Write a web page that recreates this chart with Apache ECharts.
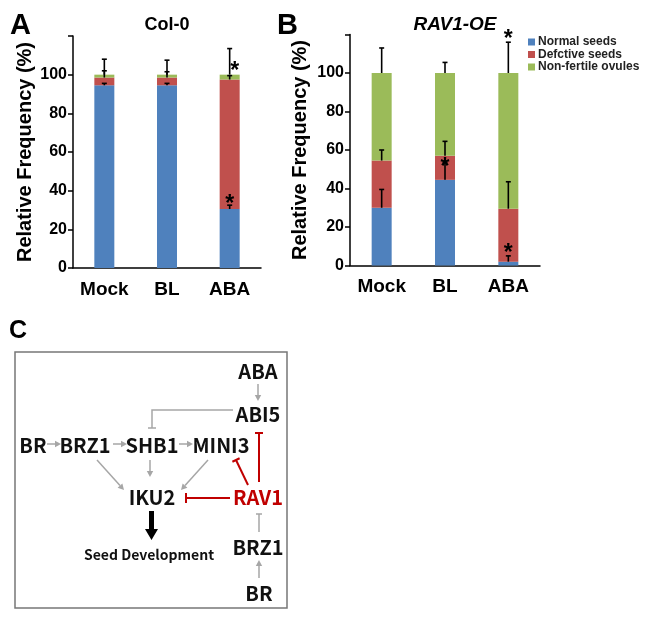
<!DOCTYPE html>
<html><head><meta charset="utf-8">
<script src="https://cdn.jsdelivr.net/npm/echarts@6/dist/echarts.min.js"></script>
<style>html,body{margin:0;padding:0;background:#fff}#c{width:654px;height:621px}</style>
</head><body><div id="c"></div>
<script>
// ---------- data ----------
const categories = ['Mock', 'BL', 'ABA'];
const seriesNames = ['Normal seeds', 'Defctive seeds', 'Non-fertile ovules'];
const yMax = 120;
const yTickLabels = [0, 20, 40, 60, 80, 100];

// Panel A: Col-0 (percent per segment)
const colNormal = [94.5, 94.5, 30.5];
const colDefective = [4.0, 4.0, 67.0];
const colNonfertile = [1.5, 1.5, 2.5];
const colErrNormal = [1.0, 1.0, 2.0];
const colErrDefective = [3.5, 3.0, 2.0];
const colErrNonfertile = [8.0, 7.5, 13.5];
const colStarsCat = [2, 2];
const colStarsVal = [35.5, 104];

// Panel B: RAV1-OE
const ravNormal = [30.0, 44.5, 2.0];
const ravDefective = [24.5, 12.5, 27.5];
const ravNonfertile = [45.5, 43.0, 70.5];
const ravErrNormal = [9.5, 9.0, 3.0];
const ravErrDefective = [5.5, 7.5, 14.0];
const ravErrNonfertile = [13.0, 5.5, 16.0];
const ravStarsCat = [1, 2, 2];
const ravStarsVal = [53.5, 8.5, 120];

// ---------- styles ----------
const colors = ['#4F81BD', '#C0504D', '#9BBB59'];
const FONT = 'Liberation Sans, Arial, sans-serif';
const DFONT = '"Noto Sans CJK KR", "Noto Sans", sans-serif';

function errData(segs, errs) {
  const out = [];
  let base = segs[0].map(() => 0);
  segs.forEach((seg, s) => {
    seg.forEach((v, i) => {
      const top = base[i] + v;
      out.push([i, top, top + errs[s][i]]);
    });
    base = base.map((b, i) => b + seg[i]);
  });
  return out;
}

function errSeries(idx, segs, errs) {
  return {
    type: 'custom', xAxisIndex: idx, yAxisIndex: idx, z: 10,
    data: errData(segs, errs),
    encode: { x: 0, y: [1, 2] },
    renderItem: function (params, api) {
      const p0 = api.coord([api.value(0), api.value(1)]);
      const p1 = api.coord([api.value(0), api.value(2)]);
      const st = { stroke: '#000', lineWidth: 1.6 };
      return {
        type: 'group', children: [
          { type: 'line', shape: { x1: p0[0], y1: p0[1], x2: p1[0], y2: p1[1] }, style: st },
          { type: 'line', shape: { x1: p1[0] - 2.5, y1: p1[1], x2: p1[0] + 2.5, y2: p1[1] }, style: st }
        ]
      };
    }
  };
}

function starSeries(idx, cats, vals, dx) {
  return {
    type: 'custom', xAxisIndex: idx, yAxisIndex: idx, z: 11,
    data: cats.map((c, i) => [c, vals[i]]),
    encode: { x: 0, y: 1 },
    renderItem: function (params, api) {
      const p = api.coord([api.value(0), api.value(1)]);
      return {
        type: 'text',
        style: {
          text: '*', x: p[0] + (dx[params.dataIndex] || 0), y: p[1] + 5,
          align: 'center', verticalAlign: 'middle',
          font: 'bold 23px ' + FONT, fill: '#000'
        }
      };
    }
  };
}

function barSeries(idx, segs) {
  return segs.map((seg, s) => ({
    type: 'bar', name: seriesNames[s], stack: 'st' + idx,
    xAxisIndex: idx, yAxisIndex: idx, barWidth: 20,
    itemStyle: { color: colors[s] }, data: seg
  }));
}

function xAxis(idx) {
  return {
    type: 'category', gridIndex: idx, data: categories,
    axisLine: { lineStyle: { color: '#000', width: 1.5 } },
    axisTick: { show: false },
    axisLabel: { interval: 0, color: '#000', fontFamily: FONT, fontWeight: 'bold', fontSize: 19, margin: 12 }
  };
}
function yAxis(idx, gap) {
  return {
    type: 'value', gridIndex: idx, min: 0, max: yMax, interval: 20,
    name: 'Relative Frequency (%)', nameLocation: 'middle', nameGap: gap,
    nameTextStyle: { color: '#000', fontFamily: FONT, fontWeight: 'bold', fontSize: 20 },
    axisLine: { show: true, lineStyle: { color: '#000', width: 1.5 } },
    axisTick: { show: true, length: 5, lineStyle: { color: '#000', width: 1.5 } },
    splitLine: { show: false },
    axisLabel: {
      color: '#000', fontFamily: FONT, fontWeight: 'bold', fontSize: 16, margin: 6,
      formatter: v => (yTickLabels.indexOf(v) >= 0 ? String(v) : '')
    }
  };
}

// ---------- diagram helpers (panel C) ----------
const G = [];
const GRAY = '#A6A6A6', RED = '#C00000';
function node(text, x, y, color, size) {
  G.push({ type: 'text', x: x, y: y, style: {
    text: text, align: 'center', verticalAlign: 'middle',
    font: 'bold ' + (size || 20) + 'px ' + DFONT, fill: color || '#111' } });
}
function arrow(x1, y1, x2, y2, color, w) {
  const ang = Math.atan2(y2 - y1, x2 - x1), L = 6, W = 3.2;
  const bx = x2 - L * Math.cos(ang), by = y2 - L * Math.sin(ang);
  G.push({ type: 'line', shape: { x1: x1, y1: y1, x2: bx, y2: by }, style: { stroke: color, lineWidth: w } });
  G.push({ type: 'polygon', shape: { points: [[x2, y2],
    [bx + W * Math.sin(ang), by - W * Math.cos(ang)],
    [bx - W * Math.sin(ang), by + W * Math.cos(ang)]] }, style: { fill: color } });
}
function tbar(x1, y1, x2, y2, color, w, half) {
  const ang = Math.atan2(y2 - y1, x2 - x1), h = half || 4;
  G.push({ type: 'line', shape: { x1: x1, y1: y1, x2: x2, y2: y2 }, style: { stroke: color, lineWidth: w } });
  G.push({ type: 'line', shape: {
    x1: x2 + h * Math.sin(ang), y1: y2 - h * Math.cos(ang),
    x2: x2 - h * Math.sin(ang), y2: y2 + h * Math.cos(ang) }, style: { stroke: color, lineWidth: w } });
}

// panel letters
G.push({ type: 'text', x: 10, y: 11, style: { text: 'A', font: 'bold 29px ' + FONT, fill: '#000' } });
G.push({ type: 'text', x: 277, y: 11, style: { text: 'B', font: 'bold 29px ' + FONT, fill: '#000' } });
G.push({ type: 'text', x: 9, y: 319, style: { text: 'C', font: 'bold 25px ' + FONT, fill: '#000' } });
// titles
G.push({ type: 'text', x: 167, y: 25, style: { text: 'Col-0', align: 'center', verticalAlign: 'middle', font: 'bold 18px ' + FONT, fill: '#000' } });
G.push({ type: 'text', x: 455, y: 25, style: { text: 'RAV1-OE', align: 'center', verticalAlign: 'middle', font: 'italic bold 19px ' + FONT, fill: '#000' } });

// box
G.push({ type: 'rect', shape: { x: 15, y: 352, width: 272, height: 256 }, style: { fill: 'none', stroke: '#777', lineWidth: 1.5 } });
node('ABA', 258, 371);
node('ABI5', 258, 414);
node('BR', 33, 445);
node('BRZ1', 85, 445);
node('SHB1', 152, 445);
node('MINI3', 221, 445);
node('IKU2', 152, 497);
node('RAV1', 258, 497, RED);
node('Seed Development', 149, 555, '#111', 14);
node('BRZ1', 258, 547);
node('BR', 259, 593);

arrow(258, 384, 258, 401, GRAY, 1.5);
G.push({ type: 'polyline', shape: { points: [[233, 410], [152, 410], [152, 428]] }, style: { stroke: GRAY, lineWidth: 1.5, fill: null } });
G.push({ type: 'line', shape: { x1: 148, y1: 428, x2: 156, y2: 428 }, style: { stroke: GRAY, lineWidth: 1.5 } });
arrow(47, 444, 61, 444, GRAY, 1.5);
arrow(113, 444, 127, 444, GRAY, 1.5);
arrow(179, 444, 193, 444, GRAY, 1.5);
arrow(97, 460, 124, 490, GRAY, 1.5);
arrow(150, 460, 150, 477, GRAY, 1.5);
arrow(208, 460, 181, 490, GRAY, 1.5);
tbar(230, 498, 186, 498, RED, 2, 5);
tbar(248, 485, 236, 460, RED, 2, 4);
tbar(259, 482, 259, 433, RED, 2, 4);
tbar(259, 532, 259, 514, GRAY, 1.5, 3);
arrow(259, 578, 259, 560, GRAY, 1.5);
// thick black arrow
G.push({ type: 'polygon', shape: { points: [[149, 511], [154, 511], [154, 529], [158, 529], [151.5, 540], [145, 529], [149, 529]] }, style: { fill: '#000' } });

const option = {
  animation: false,
  textStyle: { fontFamily: FONT },
  grid: [
    { left: 73, top: 36, width: 188, height: 232 },
    { left: 350, top: 34.5, width: 190, height: 231 }
  ],
  legend: {
    data: seriesNames, orient: 'vertical', left: 528, top: 36,
    itemWidth: 7, itemHeight: 7, itemGap: 0.5, icon: 'rect', padding: 0,
    textStyle: { fontFamily: FONT, fontSize: 12, fontWeight: 'bold', color: '#222', lineHeight: 11.5, padding: [0, 0, 0, -2] }
  },
  xAxis: [xAxis(0), xAxis(1)],
  yAxis: [yAxis(0, 38), yAxis(1, 40)],
  series: [
    ...barSeries(0, [colNormal, colDefective, colNonfertile]),
    ...barSeries(1, [ravNormal, ravDefective, ravNonfertile]),
    errSeries(0, [colNormal, colDefective, colNonfertile], [colErrNormal, colErrDefective, colErrNonfertile]),
    errSeries(1, [ravNormal, ravDefective, ravNonfertile], [ravErrNormal, ravErrDefective, ravErrNonfertile]),
    starSeries(0, colStarsCat, colStarsVal, [0, 5]),
    starSeries(1, ravStarsCat, ravStarsVal, [0, 0, 0])
  ],
  graphic: G
};
const chart = echarts.init(document.getElementById('c'), null, { renderer: 'canvas' });
chart.setOption(option);
</script></body></html>
